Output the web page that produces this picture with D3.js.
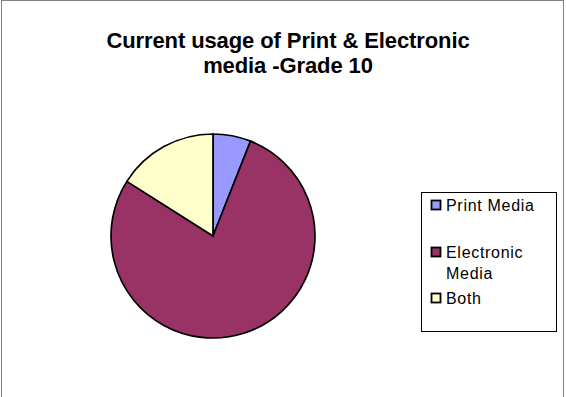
<!DOCTYPE html>
<html>
<head>
<meta charset="utf-8">
<script src="https://cdn.jsdelivr.net/npm/d3@7"></script>
<style>
  body { margin: 0; background: #fff; }
  svg { display: block; }
</style>
</head>
<body>
<svg width="566" height="397"></svg>
<script>
// chart data
var categories = ["Print Media", "Electronic Media", "Both"];
var values = [6, 78, 16];
var colors = ["#9999FF", "#993366", "#FFFFCC"];
var titleLines = ["Current usage of Print & Electronic", "media -Grade 10"];

var svg = d3.select("svg"),
    width = +svg.attr("width"),
    height = +svg.attr("height");

// outer chart frame
svg.append("rect")
    .attr("x", 1.5).attr("y", 0.5)
    .attr("width", width - 4).attr("height", height + 5)
    .attr("fill", "#fff")
    .attr("stroke", "#808080")
    .attr("stroke-width", 1);

// title
var title = svg.append("text")
    .attr("text-anchor", "middle")
    .attr("font-family", "Liberation Sans, Arial, sans-serif")
    .attr("font-weight", "bold")
    .attr("font-size", 22)
    .attr("letter-spacing", -0.1)
    .attr("fill", "#000");
title.selectAll("tspan")
    .data(titleLines)
    .enter().append("tspan")
    .attr("x", 288)
    .attr("y", function(d, i) { return 48 + i * 25; })
    .text(function(d) { return d; });

var data = categories.map(function(c, i) {
    return {name: c, value: values[i], color: colors[i]};
});

var pie = d3.pie()
    .sort(null)
    .value(function(d) { return d.value; });

var arc = d3.arc()
    .innerRadius(0)
    .outerRadius(102);

var g = svg.append("g")
    .attr("transform", "translate(213,236)");

g.selectAll("path")
    .data(pie(data))
    .enter().append("path")
    .attr("d", arc)
    .attr("fill", function(d) { return d.data.color; })
    .attr("stroke", "#000")
    .attr("stroke-width", 1.7)
    .attr("stroke-linejoin", "round");

// legend
var legend = svg.append("g");

legend.append("rect")
    .attr("x", 421.5).attr("y", 192.5)
    .attr("width", 135).attr("height", 139)
    .attr("fill", "#fff")
    .attr("stroke", "#000")
    .attr("stroke-width", 1);

// each item: marker y, lines of text
var legendRows = [
    {y: 205, lines: ["Print Media"]},
    {y: 252, lines: ["Electronic", "Media"]},
    {y: 298, lines: ["Both"]}
];

var item = legend.selectAll("g.item")
    .data(data)
    .enter().append("g")
    .attr("class", "item");

item.append("rect")
    .attr("x", 431.5).attr("width", 9).attr("height", 9)
    .attr("y", function(d, i) { return legendRows[i].y - 4.5; })
    .attr("fill", function(d) { return d.color; })
    .attr("stroke", "#000")
    .attr("stroke-width", 1.8);

var label = item.append("text")
    .attr("font-family", "Liberation Sans, Arial, sans-serif")
    .attr("font-size", 16)
    .attr("letter-spacing", 0.7)
    .attr("fill", "#000");

label.selectAll("tspan")
    .data(function(d, i) {
        return legendRows[i].lines.map(function(t, j) {
            return {text: t, y: legendRows[i].y + 6 + j * 21};
        });
    })
    .enter().append("tspan")
    .attr("x", 446)
    .attr("y", function(d) { return d.y; })
    .text(function(d) { return d.text; });
</script>
</body>
</html>
